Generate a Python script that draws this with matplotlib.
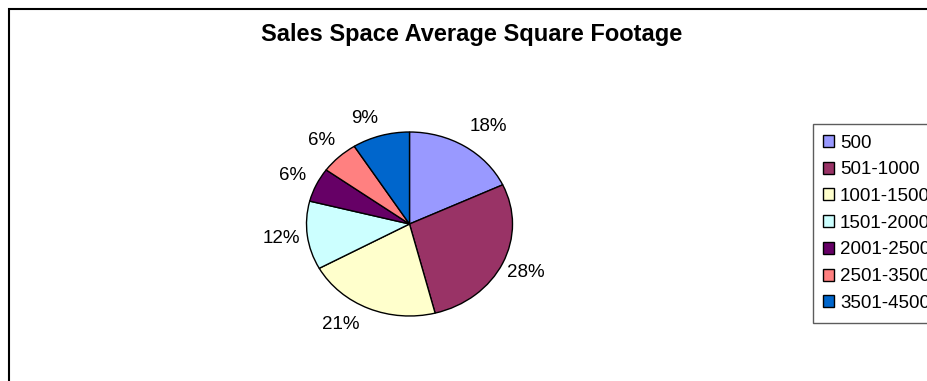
import matplotlib
matplotlib.use("Agg")
import matplotlib.pyplot as plt
from matplotlib.patches import Rectangle
import numpy as np

# ---- data ----
categories = ["500", "501-1000", "1001-1500", "1501-2000", "2001-2500", "2501-3500", "3501-4500"]
shares = [18, 28, 21, 12, 6, 6, 9]
colors = ["#9999FF", "#993366", "#FFFFCC", "#CCFFFF", "#660066", "#FF8080", "#0066CC"]

W, H = 927, 381
fig = plt.figure(figsize=(W / 100, H / 100), dpi=100)
plt.rcParams["font.family"] = ["Liberation Sans", "DejaVu Sans"]

# chart-area border (runs off the right and bottom edges like the original)
fig.patches.append(Rectangle((9 / W, -0.1), 1.2, (H - 8.5) / H + 0.1,
                             transform=fig.transFigure, fill=False,
                             edgecolor="black", linewidth=1.5))

fig.text(472 / W, 1 - 35 / H, "Sales Space Average Square Footage",
         ha="center", va="center", fontsize=17, fontweight="bold")

# pie is a slightly flattened ellipse: rx ~103 px, ry ~92 px, centre (409.5, 224)
cx, cy, rx, ry = 409.5, 224, 103, 92
lim = 1.5
ax = fig.add_axes([(cx - lim * rx) / W, (H - cy - lim * ry) / H,
                   2 * lim * rx / W, 2 * lim * ry / H])
wedges, _ = ax.pie(shares, colors=colors, startangle=90, counterclock=False,
                   wedgeprops=dict(edgecolor="black", linewidth=1))
ax.set_aspect("auto")
ax.set_xlim(-lim, lim)
ax.set_ylim(-lim, lim)

# percentage labels along each slice's mid-angle, with Excel-style nudges
frac = np.array(shares) / sum(shares)
mid = np.deg2rad(90 - 360 * (np.cumsum(frac) - frac / 2))
nudge = {0: (0.1, 0.0), 2: (-0.17, 0.05), 6: (-0.09, -0.05)}
for i, (v, a) in enumerate(zip(shares, mid)):
    dx, dy = nudge.get(i, (0, 0))
    ax.text(1.25 * np.cos(a) + dx, 1.25 * np.sin(a) + dy, f"{v}%",
            ha="center", va="center", fontsize=13.5)

leg = fig.legend(wedges, categories, loc="upper left",
                 bbox_to_anchor=(812.5 / W, 1 - 124 / H), frameon=True,
                 fancybox=False, fontsize=13.5, handlelength=0.6, handleheight=0.6,
                 handletextpad=0.3, labelspacing=0.52, borderpad=0.56,
                 borderaxespad=0)
leg.get_frame().set_edgecolor("#333333")
leg.get_frame().set_linewidth(1)
for h in leg.legend_handles:
    h.set_edgecolor("black")
    h.set_linewidth(1)

fig.savefig("out.png", dpi=100)
